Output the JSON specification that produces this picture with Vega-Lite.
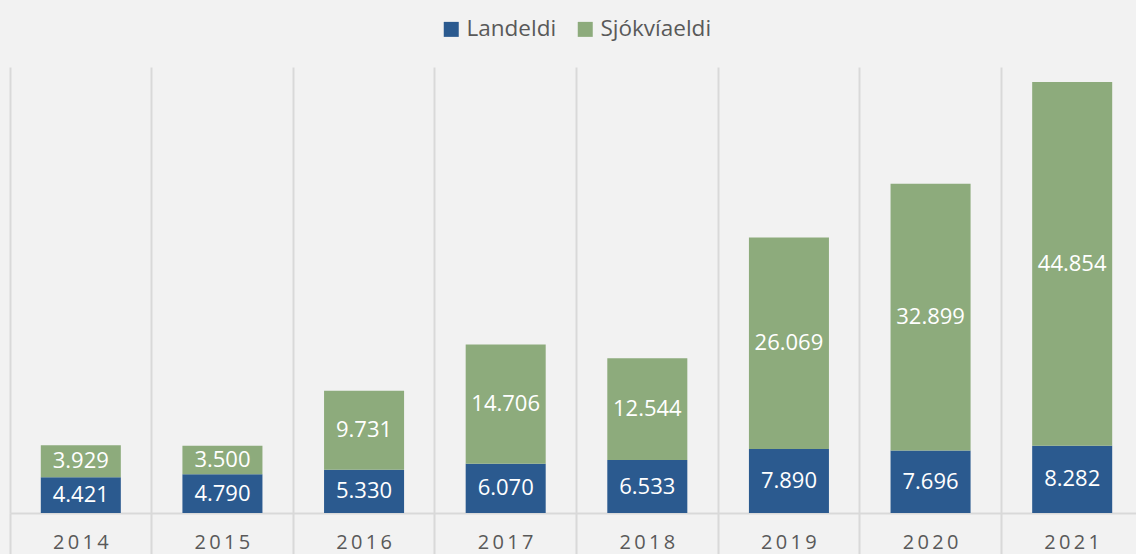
{
  "$schema": "https://vega.github.io/schema/vega-lite/v6.json",
  "width": 1133,
  "height": 446,
  "autosize": {"type": "none"},
  "padding": {"left": 10, "top": 67, "right": 0, "bottom": 41},
  "background": "#f2f2f2",
  "config": {
    "view": {"stroke": null},
    "font": "Open Sans",
    "locale": {"number": {"decimal": ",", "thousands": ".", "grouping": [3], "currency": ["", ""]}}
  },
  "data": {
    "values": [
      {"year": "2014", "type": "Landeldi", "value": 4421},
      {"year": "2014", "type": "Sjókvíaeldi", "value": 3929},
      {"year": "2015", "type": "Landeldi", "value": 4790},
      {"year": "2015", "type": "Sjókvíaeldi", "value": 3500},
      {"year": "2016", "type": "Landeldi", "value": 5330},
      {"year": "2016", "type": "Sjókvíaeldi", "value": 9731},
      {"year": "2017", "type": "Landeldi", "value": 6070},
      {"year": "2017", "type": "Sjókvíaeldi", "value": 14706},
      {"year": "2018", "type": "Landeldi", "value": 6533},
      {"year": "2018", "type": "Sjókvíaeldi", "value": 12544},
      {"year": "2019", "type": "Landeldi", "value": 7890},
      {"year": "2019", "type": "Sjókvíaeldi", "value": 26069},
      {"year": "2020", "type": "Landeldi", "value": 7696},
      {"year": "2020", "type": "Sjókvíaeldi", "value": 32899},
      {"year": "2021", "type": "Landeldi", "value": 8282},
      {"year": "2021", "type": "Sjókvíaeldi", "value": 44854}
    ]
  },
  "encoding": {
    "x": {
      "field": "year",
      "type": "nominal",
      "scale": {"paddingInner": 0, "paddingOuter": 0},
      "axis": {
        "title": null,
        "labelAngle": 0,
        "bandPosition": 0,
        "labelExpr": "join(split(datum.label, ''), '\u2009')",
        "labelFontSize": 20,
        "labelColor": "#595959",
        "labelFont": "Open Sans",
        "labelPadding": -26,
        "tickSize": 45,
        "tickColor": "#d9d9d9",
        "tickWidth": 2,
        "grid": true,
        "gridColor": "#d9d9d9",
        "gridWidth": 2,
        "domainColor": "#d9d9d9",
        "domainWidth": 2
      }
    }
  },
  "layer": [
    {
      "mark": {"type": "bar", "width": {"band": 0.565}},
      "encoding": {
        "y": {
          "field": "value",
          "type": "quantitative",
          "stack": "zero",
          "scale": {"domain": [0, 55000], "nice": false},
          "axis": null
        },
        "color": {
          "field": "type",
          "type": "nominal",
          "scale": {"domain": ["Landeldi", "Sjókvíaeldi"], "range": ["#2b5a8f", "#8dab7c"]},
          "legend": {
            "title": null,
            "orient": "none",
            "legendX": 430,
            "legendY": -49,
            "direction": "horizontal",
            "symbolType": "square",
            "symbolSize": 225,
            "symbolStrokeWidth": 0,
            "labelFontSize": 22.5,
            "labelColor": "#595959",
            "labelFont": "Open Sans",
            "labelOffset": 4,
            "columnPadding": 17
          }
        },
        "order": {"field": "type", "sort": "ascending"}
      }
    },
    {
      "mark": {"type": "text", "color": "white", "fontSize": 22, "font": "Open Sans", "baseline": "middle"},
      "encoding": {
        "y": {
          "field": "value",
          "type": "quantitative",
          "stack": "zero",
          "bandPosition": 0.5,
          "scale": {"domain": [0, 55000], "nice": false}
        },
        "text": {"field": "value", "type": "quantitative", "format": ",.0f"},
        "detail": {"field": "type"},
        "order": {"field": "type", "sort": "ascending"}
      }
    }
  ]
}
